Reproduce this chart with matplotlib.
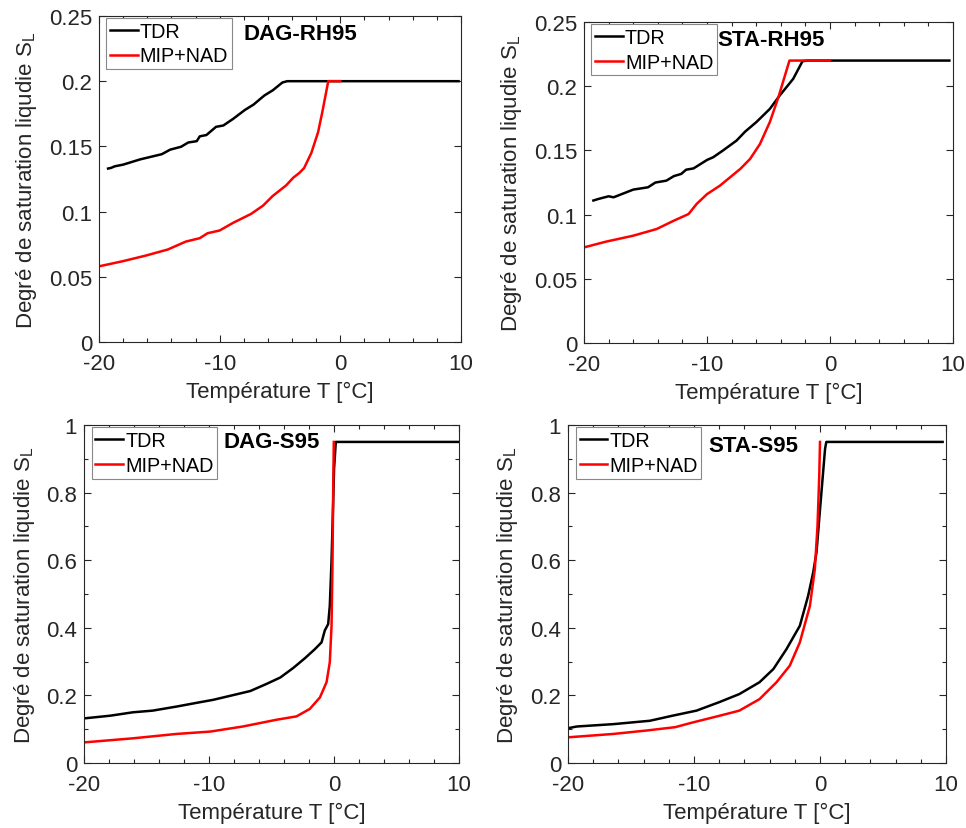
import matplotlib
matplotlib.use("Agg")
import matplotlib.pyplot as plt
from matplotlib.ticker import MultipleLocator, FuncFormatter

plt.rcParams['font.family'] = ['Liberation Sans', 'DejaVu Sans']
plt.rcParams['mathtext.fontset'] = 'custom'
plt.rcParams['mathtext.rm'] = 'Liberation Sans'
plt.rcParams['mathtext.it'] = 'Liberation Sans'
plt.rcParams['axes.unicode_minus'] = False

# DAG-RH95
dag_rh_tdr_t = [-19.25, -19.0, -18.7, -18.0, -16.6, -14.8, -14.1, -13.2, -12.6, -11.9, -11.65, -11.1,
                -10.3, -9.7, -8.9, -7.9, -7.2, -6.3, -5.6, -4.8, -4.4, 9.8]
dag_rh_tdr_s = [0.133, 0.1335, 0.1347, 0.136, 0.140, 0.144, 0.1475, 0.1497, 0.153, 0.154, 0.1577, 0.1587,
                0.165, 0.166, 0.171, 0.178, 0.182, 0.189, 0.193, 0.199, 0.2, 0.2]
dag_rh_mip_t = [-20, -18, -16.1, -14.3, -12.8, -11.65, -11.0, -10.0, -8.9, -7.4, -6.4, -5.6, -4.5, -3.9,
                -3.4, -3.0, -2.4, -1.84, -1.5, -1.0, 0.0]
dag_rh_mip_s = [0.058, 0.062, 0.0663, 0.0709, 0.077, 0.0796, 0.0834, 0.0855, 0.0913, 0.0982, 0.1046, 0.112,
                0.120, 0.126, 0.1296, 0.1334, 0.145, 0.161, 0.176, 0.2, 0.2]

# STA-RH95
sta_rh_tdr_t = [-19.24, -18.84, -18.0, -17.6, -16.0, -14.8, -14.2, -13.3, -12.7, -12.1, -11.7, -11.1,
                -10.0, -9.5, -8.7, -7.6, -6.9, -6.0, -4.9, -4.1, -3.0, -2.24, -1.8, 9.7]
sta_rh_tdr_s = [0.111, 0.1122, 0.1143, 0.1135, 0.1195, 0.1213, 0.125, 0.1265, 0.130, 0.1317, 0.135, 0.136,
                0.1426, 0.1447, 0.150, 0.1577, 0.1647, 0.172, 0.1823, 0.1927, 0.2057, 0.2195, 0.22, 0.22]
sta_rh_mip_t = [-20, -18.2, -16.0, -14.1, -12.7, -11.5, -10.85, -10.0, -8.95, -7.3, -6.5, -5.7, -4.9,
                -4.2, -3.3, 0.0]
sta_rh_mip_s = [0.0745, 0.079, 0.0836, 0.0888, 0.0953, 0.1005, 0.1083, 0.116, 0.1226, 0.1356, 0.1434,
                0.155, 0.172, 0.1914, 0.22, 0.22]

# DAG-S95
dag_s_tdr_t = [-20, -17.9, -16.1, -14.5, -12.6, -11.0, -9.66, -8.06, -6.7, -5.4, -4.3, -3.27, -2.33,
               -1.53, -1.0, -0.74, -0.47, -0.34, -0.2, -0.07, 0.0, 0.14, 10.0]
dag_s_tdr_s = [0.132, 0.140, 0.150, 0.155, 0.167, 0.178, 0.187, 0.201, 0.213, 0.234, 0.253, 0.281, 0.310,
               0.337, 0.357, 0.392, 0.411, 0.465, 0.599, 0.771, 0.87, 0.95, 0.95]
dag_s_mip_t = [-20, -16.1, -12.6, -9.9, -7.3, -4.6, -3.0, -1.94, -1.13, -0.6, -0.34, -0.2, -0.12, -0.07, -0.02]
dag_s_mip_s = [0.061, 0.073, 0.086, 0.093, 0.108, 0.128, 0.138, 0.16, 0.194, 0.239, 0.298, 0.406, 0.604,
               0.80, 0.95]

# STA-S95
sta_s_tdr_t = [-20, -19.3, -16.4, -13.5, -11.7, -9.8, -8.0, -6.4, -4.8, -3.7, -2.66, -1.6, -0.94, -0.54,
               -0.28, 0.0, 0.4, 0.5, 9.73]
sta_s_tdr_s = [0.103, 0.108, 0.115, 0.125, 0.14, 0.155, 0.18, 0.204, 0.239, 0.278, 0.337, 0.406, 0.495,
               0.564, 0.623, 0.75, 0.929, 0.95, 0.95]
sta_s_mip_t = [-20, -16.4, -13.8, -11.5, -10.1, -7.95, -6.4, -4.8, -3.45, -2.4, -1.6, -0.8, -0.41, -0.2,
               -0.06, 0.0]
sta_s_mip_s = [0.076, 0.086, 0.096, 0.106, 0.120, 0.14, 0.155, 0.189, 0.239, 0.288, 0.357, 0.465, 0.574,
               0.70, 0.85, 0.95]

panels = [
    ("DAG-RH95", dag_rh_tdr_t, dag_rh_tdr_s, dag_rh_mip_t, dag_rh_mip_s, 0.25, 0.05, None,
     [0.1025, 0.5863, 0.3747, 0.3932], (0.40, 0.945)),
    ("STA-RH95", sta_rh_tdr_t, sta_rh_tdr_s, sta_rh_mip_t, sta_rh_mip_s, 0.25, 0.05, None,
     [0.6046, 0.585, 0.382, 0.3872], (0.36, 0.947)),
    ("DAG-S95", dag_s_tdr_t, dag_s_tdr_s, dag_s_mip_t, dag_s_mip_s, 1.0, 0.2, 0.1,
     [0.087, 0.0784, 0.3882, 0.4077], (0.373, 0.95)),
    ("STA-S95", sta_s_tdr_t, sta_s_tdr_s, sta_s_mip_t, sta_s_mip_s, 1.0, 0.2, 0.1,
     [0.588, 0.0784, 0.3913, 0.4077], (0.37, 0.938)),
]

fs = 16
lfs = 14.2
grey = '#262626'
fig = plt.figure(figsize=(9.66, 8.29), dpi=100)

for name, tt, ts, mt, ms, ymax, ystep, yminor, pos, tpos in panels:
    ax = fig.add_axes(pos)
    ax.plot(tt, ts, color='black', lw=1.8, label='TDR')
    ax.plot(mt, ms, color='red', lw=1.8, label='MIP+NAD')
    ax.set_xlim(-20, 10)
    ax.set_ylim(0, ymax)
    ax.xaxis.set_major_locator(MultipleLocator(10))
    ax.xaxis.set_minor_locator(MultipleLocator(2))
    ax.yaxis.set_major_locator(MultipleLocator(ystep))
    if yminor:
        ax.yaxis.set_minor_locator(MultipleLocator(yminor))
    ax.yaxis.set_major_formatter(FuncFormatter(lambda v, p: '%g' % round(v, 4)))
    ax.tick_params(which='both', direction='in', top=True, right=True, colors=grey,
                   labelsize=fs, labelcolor=grey)
    ax.tick_params(which='major', length=5, width=0.8)
    ax.tick_params(which='minor', length=3, width=0.8)
    ax.tick_params(axis='x', which='major', pad=8)
    ax.tick_params(axis='y', which='major', pad=5)
    for sp in ax.spines.values():
        sp.set_color(grey)
        sp.set_linewidth(0.8)
    ax.set_xlabel('Température T [°C]', fontsize=fs, color=grey, labelpad=5)
    ax.set_ylabel('Degré de saturation liqudie S$_\\mathregular{L}$', fontsize=fs, color=grey, labelpad=7)
    leg = ax.legend(loc='upper left', bbox_to_anchor=(0.02, 0.995), borderaxespad=0, fontsize=lfs,
                    handlelength=1.4, handletextpad=0.1, labelspacing=0.3, borderpad=0.2,
                    fancybox=False, framealpha=1, edgecolor='#888888')
    leg.get_frame().set_linewidth(0.8)
    ax.text(tpos[0], tpos[1], name, transform=ax.transAxes, fontsize=fs, fontweight='bold',
            ha='left', va='center', color='black')

fig.savefig('out.png', dpi=100)
